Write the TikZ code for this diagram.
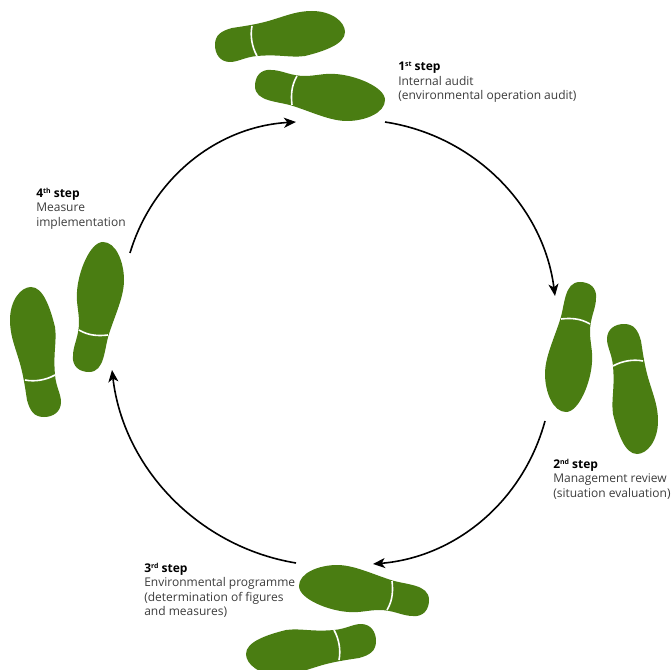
\documentclass[tikz,border=0pt]{standalone}
\usepackage{fontspec}
\setmainfont{Open Sans}
\usepackage{xcolor}
\usetikzlibrary{arrows.meta, positioning}
\definecolor{solegreen}{HTML}{4A7D12}
\definecolor{labelgray}{HTML}{3C3C3C}
\newcommand{\stepsup}[1]{\raisebox{0.33em}{\fontsize{5.2}{5.2}\selectfont #1}}
\tikzset{
  soleline/.style={white, line width=1.2pt},
  soleA/.pic={
    \fill[solegreen] (-65,-9)
      .. controls (-65,-19) and (-59,-26) .. (-49,-25)
      .. controls (-38,-25) and (-30,-19) .. (-15,-19)
      .. controls (-5,-19) and (5,-22) .. (15,-21)
      .. controls (35,-20) and (65,-8) .. (65,5)
      .. controls (65,18) and (45,26) .. (27,26)
      .. controls (10,26) and (-8,17) .. (-27,11)
      .. controls (-42,6) and (-65,7) .. (-65,-9) -- cycle;
    \draw[soleline] (-23,-19) .. controls (-29,-9) and (-29,1) .. (-28,10);
  },
  soleB/.pic={
    \fill[solegreen] (-65,9)
      .. controls (-65,-1) and (-59,-5) .. (-48,-8)
      .. controls (-35,-10) and (-20,-12) .. (-5,-17)
      .. controls (8,-21) and (18,-25) .. (32,-25)
      .. controls (52,-25) and (65,-14) .. (65,-4)
      .. controls (65,8) and (45,15) .. (25,20)
      .. controls (10,22) and (0,18) .. (-23,20)
      .. controls (-35,21) and (-42,26) .. (-50,26)
      .. controls (-60,26) and (-65,18) .. (-65,9) -- cycle;
    \draw[soleline] (-28,-10) .. controls (-30,0) and (-28,11) .. (-23,20);
  }
}
\begin{document}
\begin{tikzpicture}[
  x=0.75pt, y=-0.75pt,
  arr/.style={-{Stealth[length=9pt, width=7.5pt, inset=2.5pt]}, line width=1.2pt, black},
  steptext/.style={anchor=north west, inner sep=0pt, align=left, text=labelgray,
    font=\fontsize{9}{10.7}\selectfont}
]
  \useasboundingbox (0,0) rectangle (671,670);

  % Footprints
  \pic at (320,95) {soleA};
  \pic at (280,36) {soleB};
  \pic[rotate=-90] at (571,347) {soleA};
  \pic[rotate=-90] at (633,389) {soleB};
  \pic[rotate=180] at (364,591) {soleA};
  \pic[rotate=180] at (311,650) {soleB};
  \pic[rotate=90] at (98,307) {soleA};
  \pic[rotate=90] at (35,352) {soleB};

  % Labels
  \node[steptext] (step1) at (398,62)
    {\textcolor{black}{\textbf{1\stepsup{st} step}}\\Internal audit\\(environmental operation audit)};
  \node[steptext] (step2) at (553,459)
    {\textcolor{black}{\textbf{2\stepsup{nd} step}}\\Management review\\(situation evaluation)};
  \node[steptext] (step3) at (144,563)
    {\textcolor{black}{\textbf{3\stepsup{rd} step}}\\Environmental programme\\(determination of figures\\and measures)};
  \node[steptext] (step4) at (36,188)
    {\textcolor{black}{\textbf{4\stepsup{th} step}}\\Measure\\implementation};

  % Cycle
  \coordinate (a1) at (385,122);
  \coordinate (b1) at (555,296);
  \coordinate (a2) at (545,421);
  \coordinate (b2) at (373,564);
  \coordinate (a3) at (296,563);
  \coordinate (b3) at (112,370);
  \coordinate (a4) at (130,253);
  \coordinate (b4) at (296,122);
  \draw[arr] (a1) to[bend left=37, looseness=0.95] (b1);
  \draw[arr] (a2) to[bend left=35, looseness=0.95] (b2);
  \draw[arr] (a3) to[bend left=37, looseness=0.95] (b3);
  \draw[arr] (a4) to[bend left=35, looseness=0.95] (b4);
\end{tikzpicture}
\end{document}
